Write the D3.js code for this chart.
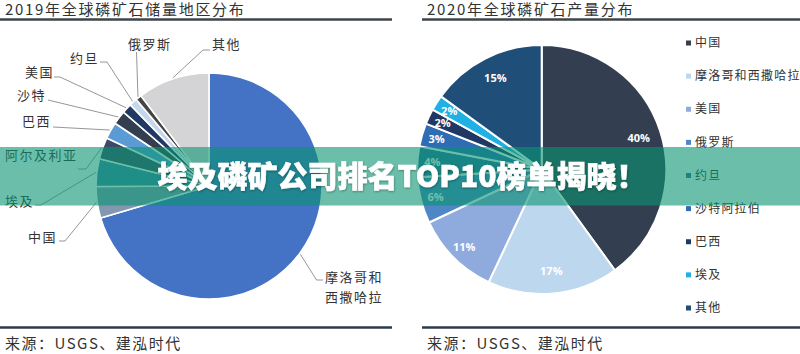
<!DOCTYPE html>
<html><head><meta charset="utf-8">
<script src="https://cdn.jsdelivr.net/npm/d3@7"></script>
<style>
html,body{margin:0;padding:0;background:#fff;}
svg{display:block;}
</style></head>
<body><svg id="c" width="800" height="354"></svg>
<script>
// ---- data ----
const leftTitle = "2019年全球磷矿石储量地区分布";
const rightTitle = "2020年全球磷矿石产量分布";
const sourceText = "来源：USGS、建泓时代";
const bannerText = "埃及磷矿公司排名TOP10榜单揭晓！";

const leftCategories = ["摩洛哥和西撒哈拉","中国","埃及","阿尔及利亚","巴西","沙特","美国","约旦","俄罗斯","其他"];
const leftValues = [50000,3200,2800,2200,1700,1400,1000,800,600,7300];

const rightCategories = ["中国","摩洛哥和西撒哈拉","美国","俄罗斯","约旦","沙特阿拉伯","巴西","埃及","其他"];
const rightValues = [40,17,11,6,4,3,2,2,15];

// ---- styles ----
const leftColors = ["#4472c4","#8497b0","#3f86a8","#3c4b68","#5b9bd5","#333f50","#1f3864","#c5d7ee","#454545","#d4d4d6"];
const rightColors = ["#333f50","#bdd7ee","#8faadc","#4f86c6","#2f6f9f","#2e6db4","#1f3864","#1fb0e4","#1f4e79"];

const svg = d3.select("#c");
const cjk = "'Noto Sans CJK SC','Noto Sans',sans-serif";

// ---- headers / footers ----
function frame(x0, x1, tx, title){
  svg.append("text").attr("x",tx).attr("y",15).text(title)
    .attr("font-family",cjk).attr("font-size",15).attr("letter-spacing",1.7).attr("fill","#333");
  svg.append("line").attr("x1",x0).attr("x2",x1).attr("y1",19.5).attr("y2",19.5)
    .attr("stroke","#3e444b").attr("stroke-width",2.5);
  svg.append("line").attr("x1",x0).attr("x2",x1).attr("y1",327.5).attr("y2",327.5)
    .attr("stroke","#2f3a46").attr("stroke-width",2.5);
  svg.append("text").attr("x",tx).attr("y",348.5).text(sourceText)
    .attr("font-family",cjk).attr("font-size",15).attr("letter-spacing",1.5).attr("fill","#333");
}
frame(0, 392, 5, leftTitle);
frame(422, 800, 427, rightTitle);

// ---- left pie ----
const L = {cx:209, cy:186, r:113};
const pie = d3.pie().sort(null).value(d=>d.v);
const leftData = pie(leftCategories.map((c,i)=>({c, v:leftValues[i], col:leftColors[i]})));
const gL = svg.append("g").attr("transform",`translate(${L.cx},${L.cy})`);
const arcL = d3.arc().innerRadius(0).outerRadius(L.r);
gL.selectAll("path").data(leftData).join("path")
  .attr("d",arcL).attr("fill",d=>d.data.col)
  .attr("stroke","#fff").attr("stroke-width",1.6).attr("stroke-linejoin","round");

// label layout (text position and leader elbow, in page coords)
const leftLabelLayout = {
  "摩洛哥和西撒哈拉": {tx:325, ty:[277,297], pts:[[316.5,280],[323,280]]},
  "中国":   {tx:28, ty:[237], pts:[[65,241],[59,241]]},
  "埃及":   {tx:5,  ty:[201], pts:[[41,205],[35,205]]},
  "阿尔及利亚": {tx:5, ty:[155], pts:[[86,169],[78,169]]},
  "巴西":   {tx:22, ty:[121], pts:[[53,127]]},
  "沙特":   {tx:17, ty:[95],  pts:[[48,100]]},
  "美国":   {tx:25, ty:[72],  pts:[[60,77],[54,77]]},
  "约旦":   {tx:70, ty:[58],  pts:[[107,62],[100,62]]},
  "俄罗斯": {tx:128,ty:[44],  pts:[[136.5,52]]},
  "其他":   {tx:212,ty:[44],  pts:[[203,50],[210,50]]}
};
const edgeArc = d3.arc().innerRadius(L.r+1).outerRadius(L.r+1);
leftData.forEach(d=>{
  const lay = leftLabelLayout[d.data.c];
  const [ex,ey] = edgeArc.centroid(d);
  const pts = [[L.cx+ex, L.cy+ey]].concat(lay.pts);
  svg.append("path").attr("d", d3.line()(pts)).attr("fill","none")
    .attr("stroke","#8a8a8a").attr("stroke-width",0.9);
  const lines = d.data.c.length>6 ? [d.data.c.slice(0,4), d.data.c.slice(4)] : [d.data.c];
  lines.forEach((t,i)=>{
    svg.append("text").attr("x",lay.tx).attr("y",lay.ty[i]).attr("dy","0.35em")
      .text(t)
      .attr("font-family",cjk).attr("font-size",13).attr("letter-spacing",1.5).attr("fill","#333");
  });
});

// ---- right pie ----
const R = {cx:541.7, cy:169.5, r:124.5};
const rightData = pie(rightCategories.map((c,i)=>({c, v:rightValues[i], col:rightColors[i]})));
const gR = svg.append("g").attr("transform",`translate(${R.cx},${R.cy})`);
const arcR = d3.arc().innerRadius(0).outerRadius(R.r);
gR.selectAll("path").data(rightData).join("path")
  .attr("d",arcR).attr("fill",d=>d.data.col)
  .attr("stroke","#fff").attr("stroke-width",2).attr("stroke-linejoin","round");
// label radius: larger slices sit a bit further in
const labR = d => R.r * (d.endAngle - d.startAngle > 0.8 ? 0.82 : 0.88);
gR.selectAll("text.pct").data(rightData).join("text").attr("class","pct")
  .attr("transform",d=>{
    const a = d3.arc().innerRadius(labR(d)).outerRadius(labR(d));
    return `translate(${a.centroid(d)})`;
  })
  .attr("text-anchor","middle").attr("dy","0.35em")
  .text(d=>d.data.v+"%")
  .attr("font-family","'Open Sans','DejaVu Sans',sans-serif").attr("font-weight",700)
  .attr("font-size",11).attr("fill","#fff");

// legend
const ly = d3.scalePoint().domain(rightCategories).range([43,308]);
const gLeg = svg.append("g");
rightData.forEach(d=>{
  const y = ly(d.data.c);
  gLeg.append("rect").attr("x",686).attr("y",y-2.5).attr("width",5).attr("height",5).attr("fill",d.data.col);
  gLeg.append("text").attr("x",695).attr("y",y).attr("dy","0.35em").text(d.data.c)
    .attr("font-family",cjk).attr("font-size",12).attr("letter-spacing",1.2).attr("fill","#333");
});

// ---- banner overlay ----
svg.append("rect").attr("x",0).attr("y",147).attr("width",800).attr("height",58.5)
  .attr("fill","rgb(8,148,114)").attr("fill-opacity",0.6);
const defs = svg.append("defs");
const f = defs.append("filter").attr("id","sh").attr("x","-5%").attr("y","-20%").attr("width","110%").attr("height","140%");
f.append("feDropShadow").attr("dx",0.5).attr("dy",1).attr("stdDeviation",1).attr("flood-color","#000").attr("flood-opacity",0.35);
svg.append("text").attr("x",402).attr("y",187).attr("text-anchor","middle").text(bannerText)
  .attr("font-family",cjk).attr("font-weight",900).attr("font-size",30)
  .attr("fill","#fff").attr("stroke","#fff").attr("stroke-width",0.6).attr("filter","url(#sh)");
</script>
</body></html>
